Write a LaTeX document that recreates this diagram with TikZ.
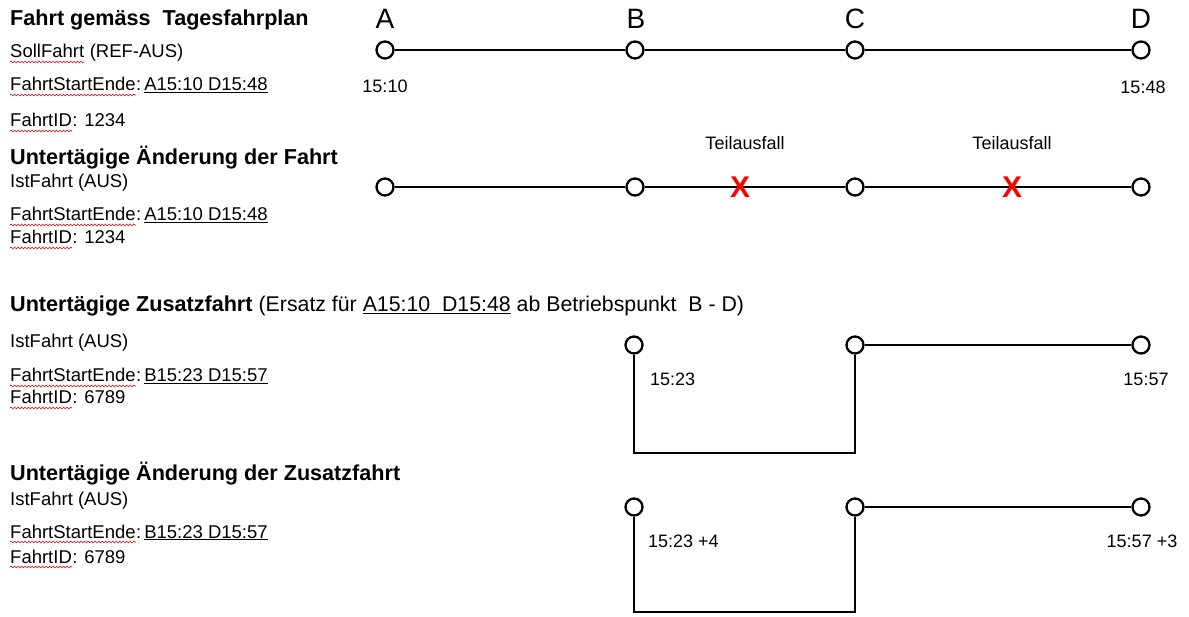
\documentclass[tikz,border=0pt]{standalone}
\usepackage{fontspec}
\setmainfont{Liberation Sans}
\usepackage{tikz}
\usetikzlibrary{decorations.pathmorphing}

\begin{document}
\begin{tikzpicture}[x=1pt, y=-1pt]
        \tikzstyle{stop} = [draw, circle, line width=2.3pt, minimum size=17pt, inner sep=0pt, fill=white]
        \tikzstyle{track} = [-, line width=2.2pt]
        \tikzstyle{head} = [anchor=base west, inner sep=0pt, font=\bfseries\fontsize{21.6}{25}\selectfont]
        \tikzstyle{info} = [anchor=base west, inner sep=0pt, font=\fontsize{18.5}{22}\selectfont]
        \tikzstyle{time} = [inner sep=0pt, font=\fontsize{18}{22}\selectfont]
        \tikzstyle{station} = [inner sep=0pt, font=\fontsize{28}{32}\selectfont]
        \tikzstyle{cancel} = [inner sep=0pt, text=red, font=\bfseries\fontsize{30}{34}\selectfont]
        \tikzstyle{wave} = [red!85!black, line width=0.6pt, decorate, decoration={snake, amplitude=0.9pt, segment length=3.5pt}]
        \useasboundingbox (0,0) rectangle (1189,617);
        % left texts
        \node[head] (title1) at (10,26) {Fahrt gemäss\ \ Tagesfahrplan};
        \node[info] (soll1) at (10,58) {SollFahrt};
        \node[info] (soll1r) at (soll1.base east) {\ (REF-AUS)};
        \node[info] (fse1) at (10,91) {FahrtStartEnde};
        \node[info] (fse1r) at (fse1.base east) {:\,\underline{A15:10 D15:48}};
        \node[info] (id1) at (10,127) {FahrtID};
        \node[info] (id1r) at (id1.base east) {: 1234};
        \node[head] (title2) at (10,165) {Untertägige Änderung der Fahrt};
        \node[info] (ist2) at (10,188) {IstFahrt (AUS)};
        \node[info] (fse2) at (10,221) {FahrtStartEnde};
        \node[info] (fse2r) at (fse2.base east) {:\,\underline{A15:10 D15:48}};
        \node[info] (id2) at (10,244) {FahrtID};
        \node[info] (id2r) at (id2.base east) {: 1234};
        \node[head] (title3) at (10,312) {Untertägige Zusatzfahrt {\mdseries\fontsize{21.3}{25}\selectfont (Ersatz für \underline{A15:10\ \ D15:48} ab Betriebspunkt\ \ B - D)}};
        \node[info] (ist3) at (10,348) {IstFahrt (AUS)};
        \node[info] (fse3) at (10,382) {FahrtStartEnde};
        \node[info] (fse3r) at (fse3.base east) {:\,\underline{B15:23 D15:57}};
        \node[info] (id3) at (10,404) {FahrtID};
        \node[info] (id3r) at (id3.base east) {: 6789};
        \node[head] (title4) at (10,480) {Untertägige Änderung der Zusatzfahrt};
        \node[info] (ist4) at (10,505) {IstFahrt (AUS)};
        \node[info] (fse4) at (10,538) {FahrtStartEnde};
        \node[info] (fse4r) at (fse4.base east) {:\,\underline{B15:23 D15:57}};
        \node[info] (id4) at (10,563) {FahrtID};
        \node[info] (id4r) at (id4.base east) {: 6789};
        % spell check waves
        \draw[wave] ([yshift=-4pt]soll1.base west) -- ([yshift=-4pt]soll1.base east);
        \draw[wave] ([yshift=-4pt]fse1.base west) -- ([yshift=-4pt]fse1.base east);
        \draw[wave] ([yshift=-4pt]id1.base west) -- ([yshift=-4pt]id1.base east);
        \draw[wave] ([yshift=-4pt]fse2.base west) -- ([yshift=-4pt]fse2.base east);
        \draw[wave] ([yshift=-4pt]id2.base west) -- ([yshift=-4pt]id2.base east);
        \draw[wave] ([yshift=-4pt]fse3.base west) -- ([yshift=-4pt]fse3.base east);
        \draw[wave] ([yshift=-4pt]id3.base west) -- ([yshift=-4pt]id3.base east);
        \draw[wave] ([yshift=-4pt]fse4.base west) -- ([yshift=-4pt]fse4.base east);
        \draw[wave] ([yshift=-4pt]id4.base west) -- ([yshift=-4pt]id4.base east);
        % stations
        \node[station] (labA) at (385,19) {A};
        \node[station] (labB) at (636,19) {B};
        \node[station] (labC) at (855,19) {C};
        \node[station] (labD) at (1141,19) {D};
        % Sollfahrt
        \node[stop] (a1) at (385,50) {};
        \node[stop] (b1) at (635,50) {};
        \node[stop] (c1) at (855,50) {};
        \node[stop] (d1) at (1141,50) {};
        \draw[track] (a1) -- (b1);
        \draw[track] (b1) -- (c1);
        \draw[track] (c1) -- (d1);
        \node[time] (t1a) at (385,86) {15:10};
        \node[time] (t1d) at (1143,87) {15:48};
        % Istfahrt mit Teilausfall
        \node[stop] (a2) at (385,187) {};
        \node[stop] (b2) at (635,187) {};
        \node[stop] (c2) at (855,187) {};
        \node[stop] (d2) at (1141,187) {};
        \draw[track] (a2) -- (b2);
        \draw[track] (b2) -- (c2);
        \draw[track] (c2) -- (d2);
        \node[time] (fail1) at (745,143) {Teilausfall};
        \node[time] (fail2) at (1012,143) {Teilausfall};
        \node[cancel] (x1) at (740,187) {X};
        \node[cancel] (x2) at (1012,187) {X};
        % Zusatzfahrt
        \node[stop] (b3) at (634,345) {};
        \node[stop] (c3) at (855,345) {};
        \node[stop] (d3) at (1141,345) {};
        \coordinate (low3) at (634,453);
        \draw[track] (b3) -- (low3) -| (c3);
        \draw[track] (c3) -- (d3);
        \node[time, anchor=west] (t3b) at (650,379) {15:23};
        \node[time] (t3d) at (1146,379) {15:57};
        % Aenderung der Zusatzfahrt
        \node[stop] (b4) at (634,507) {};
        \node[stop] (c4) at (855,507) {};
        \node[stop] (d4) at (1141,507) {};
        \coordinate (low4) at (634,612);
        \draw[track] (b4) -- (low4) -| (c4);
        \draw[track] (c4) -- (d4);
        \node[time, anchor=west] (t4b) at (648,541) {15:23 +4};
        \node[time] (t4d) at (1142,541) {15:57 +3};
    \end{tikzpicture}
\end{document}
